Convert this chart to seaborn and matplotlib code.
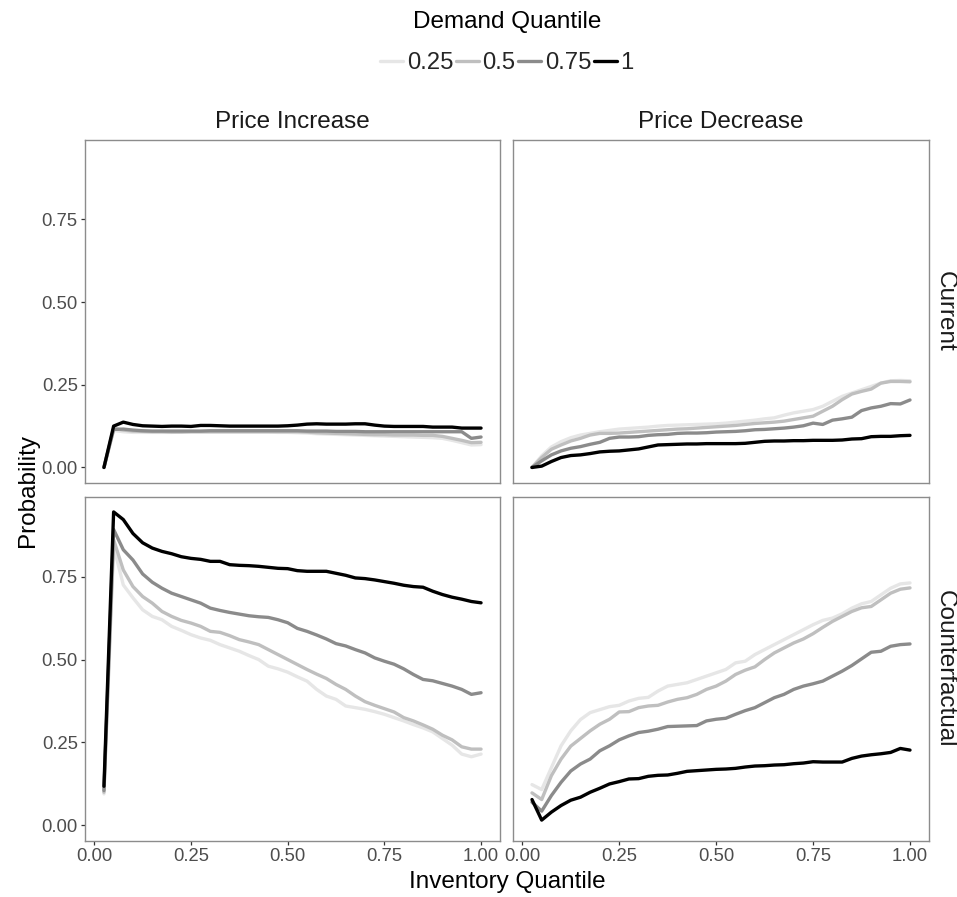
import numpy as np
import pandas as pd
import matplotlib
matplotlib.use("Agg")
import matplotlib.pyplot as plt
from matplotlib.lines import Line2D
import seaborn as sns

# ---------------- data ----------------
inventory_q = [0.025, 0.05, 0.075, 0.1, 0.125, 0.15, 0.175, 0.2, 0.225, 0.25,
               0.275, 0.3, 0.325, 0.35, 0.375, 0.4, 0.425, 0.45, 0.475, 0.5,
               0.525, 0.55, 0.575, 0.6, 0.625, 0.65, 0.675, 0.7, 0.725, 0.75,
               0.775, 0.8, 0.825, 0.85, 0.875, 0.9, 0.925, 0.95, 0.975, 1.0]

demand_levels = ["0.25", "0.5", "0.75", "1"]
directions = ["Price Increase", "Price Decrease"]
scenarios = ["Current", "Counterfactual"]

# Price Increase / Current
inc_cur_025 = [0.0, 0.112, 0.108, 0.106, 0.106, 0.106, 0.106, 0.106, 0.107, 0.107, 0.107, 0.107, 0.107, 0.107, 0.107, 0.107, 0.107, 0.107, 0.106, 0.106, 0.105, 0.104, 0.102, 0.101, 0.100, 0.099, 0.098, 0.097, 0.096, 0.095, 0.094, 0.093, 0.092, 0.091, 0.090, 0.088, 0.082, 0.075, 0.068, 0.069]
inc_cur_050 = [0.0, 0.118, 0.113, 0.110, 0.109, 0.108, 0.108, 0.107, 0.107, 0.108, 0.108, 0.108, 0.108, 0.108, 0.108, 0.108, 0.108, 0.108, 0.108, 0.108, 0.108, 0.107, 0.105, 0.104, 0.103, 0.102, 0.101, 0.100, 0.099, 0.099, 0.098, 0.098, 0.098, 0.097, 0.097, 0.094, 0.088, 0.082, 0.075, 0.076]
inc_cur_075 = [0.0, 0.115, 0.116, 0.113, 0.111, 0.110, 0.110, 0.110, 0.110, 0.110, 0.110, 0.111, 0.111, 0.111, 0.111, 0.111, 0.111, 0.111, 0.111, 0.111, 0.111, 0.110, 0.110, 0.110, 0.109, 0.109, 0.109, 0.108, 0.108, 0.108, 0.108, 0.108, 0.108, 0.108, 0.108, 0.108, 0.108, 0.108, 0.088, 0.092]
inc_cur_100 = [0.0, 0.125, 0.137, 0.130, 0.126, 0.125, 0.124, 0.125, 0.125, 0.124, 0.127, 0.127, 0.126, 0.125, 0.125, 0.125, 0.125, 0.125, 0.125, 0.126, 0.128, 0.131, 0.132, 0.131, 0.131, 0.131, 0.132, 0.132, 0.128, 0.125, 0.124, 0.124, 0.124, 0.124, 0.122, 0.122, 0.122, 0.119, 0.119, 0.119]

# Price Decrease / Current
dec_cur_025 = [0.0, 0.035, 0.062, 0.078, 0.090, 0.098, 0.103, 0.108, 0.112, 0.116, 0.118, 0.120, 0.122, 0.125, 0.127, 0.128, 0.129, 0.130, 0.131, 0.132, 0.134, 0.137, 0.140, 0.143, 0.147, 0.150, 0.158, 0.165, 0.170, 0.175, 0.185, 0.200, 0.215, 0.225, 0.235, 0.245, 0.255, 0.262, 0.263, 0.262]
dec_cur_050 = [0.0, 0.030, 0.055, 0.068, 0.080, 0.088, 0.098, 0.103, 0.103, 0.104, 0.106, 0.108, 0.110, 0.112, 0.114, 0.116, 0.117, 0.119, 0.121, 0.123, 0.125, 0.127, 0.130, 0.133, 0.135, 0.137, 0.140, 0.145, 0.150, 0.155, 0.170, 0.185, 0.205, 0.222, 0.230, 0.237, 0.255, 0.260, 0.260, 0.259]
dec_cur_075 = [0.0, 0.020, 0.038, 0.050, 0.058, 0.063, 0.070, 0.076, 0.088, 0.092, 0.092, 0.093, 0.097, 0.099, 0.100, 0.103, 0.104, 0.104, 0.105, 0.107, 0.108, 0.109, 0.111, 0.114, 0.115, 0.117, 0.119, 0.122, 0.126, 0.134, 0.130, 0.143, 0.147, 0.152, 0.172, 0.180, 0.185, 0.193, 0.192, 0.204]
dec_cur_100 = [0.0, 0.004, 0.018, 0.030, 0.036, 0.038, 0.042, 0.047, 0.049, 0.050, 0.053, 0.056, 0.062, 0.068, 0.069, 0.070, 0.071, 0.071, 0.072, 0.072, 0.072, 0.072, 0.073, 0.076, 0.079, 0.080, 0.080, 0.081, 0.081, 0.082, 0.082, 0.082, 0.083, 0.086, 0.087, 0.093, 0.094, 0.094, 0.096, 0.097]

# Price Increase / Counterfactual
inc_cf_025 = [0.095, 0.841, 0.725, 0.686, 0.650, 0.630, 0.620, 0.600, 0.588, 0.575, 0.565, 0.558, 0.545, 0.535, 0.525, 0.512, 0.500, 0.480, 0.472, 0.462, 0.448, 0.435, 0.410, 0.390, 0.380, 0.360, 0.355, 0.350, 0.343, 0.335, 0.325, 0.315, 0.304, 0.294, 0.282, 0.262, 0.242, 0.215, 0.207, 0.215]
inc_cf_050 = [0.100, 0.861, 0.770, 0.720, 0.690, 0.670, 0.645, 0.630, 0.618, 0.610, 0.600, 0.585, 0.582, 0.572, 0.560, 0.553, 0.545, 0.530, 0.515, 0.500, 0.485, 0.470, 0.456, 0.443, 0.425, 0.410, 0.390, 0.373, 0.362, 0.352, 0.342, 0.325, 0.315, 0.303, 0.290, 0.272, 0.258, 0.237, 0.230, 0.230]
inc_cf_075 = [0.105, 0.892, 0.831, 0.800, 0.758, 0.733, 0.715, 0.700, 0.690, 0.680, 0.670, 0.655, 0.648, 0.642, 0.637, 0.632, 0.629, 0.627, 0.620, 0.611, 0.594, 0.585, 0.574, 0.562, 0.548, 0.541, 0.530, 0.520, 0.505, 0.495, 0.486, 0.472, 0.455, 0.440, 0.436, 0.428, 0.420, 0.410, 0.395, 0.400]
inc_cf_100 = [0.118, 0.945, 0.922, 0.880, 0.852, 0.836, 0.826, 0.819, 0.810, 0.805, 0.802, 0.796, 0.796, 0.786, 0.784, 0.783, 0.781, 0.778, 0.775, 0.774, 0.768, 0.766, 0.766, 0.766, 0.760, 0.754, 0.746, 0.744, 0.740, 0.735, 0.730, 0.724, 0.720, 0.718, 0.706, 0.696, 0.688, 0.682, 0.675, 0.671]

# Price Decrease / Counterfactual
dec_cf_025 = [0.123, 0.108, 0.174, 0.240, 0.285, 0.319, 0.340, 0.349, 0.358, 0.362, 0.375, 0.383, 0.386, 0.405, 0.420, 0.425, 0.430, 0.440, 0.450, 0.460, 0.470, 0.490, 0.495, 0.515, 0.530, 0.545, 0.560, 0.575, 0.590, 0.605, 0.618, 0.625, 0.638, 0.655, 0.668, 0.675, 0.695, 0.715, 0.728, 0.731]
dec_cf_050 = [0.098, 0.078, 0.150, 0.200, 0.239, 0.262, 0.285, 0.305, 0.320, 0.342, 0.343, 0.355, 0.360, 0.362, 0.372, 0.380, 0.385, 0.395, 0.410, 0.420, 0.435, 0.455, 0.468, 0.478, 0.500, 0.520, 0.535, 0.550, 0.562, 0.578, 0.597, 0.615, 0.630, 0.645, 0.656, 0.660, 0.680, 0.700, 0.712, 0.716]
dec_cf_075 = [0.070, 0.043, 0.090, 0.130, 0.164, 0.185, 0.200, 0.225, 0.240, 0.258, 0.270, 0.280, 0.284, 0.290, 0.298, 0.299, 0.300, 0.301, 0.315, 0.320, 0.323, 0.335, 0.346, 0.355, 0.370, 0.385, 0.395, 0.410, 0.420, 0.427, 0.435, 0.450, 0.465, 0.482, 0.502, 0.522, 0.525, 0.540, 0.545, 0.547]
dec_cf_100 = [0.078, 0.016, 0.040, 0.060, 0.076, 0.085, 0.100, 0.112, 0.125, 0.132, 0.140, 0.141, 0.148, 0.151, 0.152, 0.157, 0.163, 0.165, 0.167, 0.169, 0.170, 0.172, 0.176, 0.179, 0.180, 0.182, 0.183, 0.186, 0.188, 0.192, 0.191, 0.191, 0.191, 0.202, 0.209, 0.213, 0.216, 0.220, 0.232, 0.227]

y_ticks = [0.00, 0.25, 0.50, 0.75]
y_tick_labels = ["0.00", "0.25", "0.50", "0.75"]
x_ticks = [0.00, 0.25, 0.50, 0.75, 1.00]
x_tick_labels = ["0.00", "0.25", "0.50", "0.75", "1.00"]

series = {
    ("Price Increase", "Current"): [inc_cur_025, inc_cur_050, inc_cur_075, inc_cur_100],
    ("Price Decrease", "Current"): [dec_cur_025, dec_cur_050, dec_cur_075, dec_cur_100],
    ("Price Increase", "Counterfactual"): [inc_cf_025, inc_cf_050, inc_cf_075, inc_cf_100],
    ("Price Decrease", "Counterfactual"): [dec_cf_025, dec_cf_050, dec_cf_075, dec_cf_100],
}

rows = []
for (d, s), lists in series.items():
    for lvl, vals in zip(demand_levels, lists):
        for xv, yv in zip(inventory_q, vals):
            rows.append({"direction": d, "scenario": s, "demand": lvl,
                         "inventory": xv, "prob": yv})
df = pd.DataFrame(rows)

# ---------------- style ----------------
sns.set_theme(style="white")
plt.rcParams["font.family"] = ["Liberation Sans", "DejaVu Sans"]

palette = {"0.25": "#E6E6E6", "0.5": "#BFBFBF", "0.75": "#8B8B8B", "1": "#000000"}

W, H = 957, 897
fig = plt.figure(figsize=(W / 100, H / 100), dpi=100)
fig.patch.set_facecolor("white")

def frac_rect(x0, y0, x1, y1):
    return [x0 / W, 1 - y1 / H, (x1 - x0) / W, (y1 - y0) / H]

panel_px = {
    (0, 0): (85, 140, 500, 483),
    (0, 1): (513, 140, 929, 483),
    (1, 0): (85, 497, 500, 841),
    (1, 1): (513, 497, 929, 841),
}

ylim = (-0.047, 0.99)
xlim = (-0.024, 1.049)
tick_label_color = "#4D4D4D"

for (r, c), px in panel_px.items():
    ax = fig.add_axes(frac_rect(*px))
    sub = df[(df["direction"] == directions[c]) & (df["scenario"] == scenarios[r])]
    sns.lineplot(data=sub, x="inventory", y="prob", hue="demand",
                 hue_order=demand_levels, palette=palette, linewidth=2.4,
                 legend=False, ax=ax, estimator=None, sort=True)
    ax.set_xlim(*xlim)
    ax.set_ylim(*ylim)
    ax.set_xlabel("")
    ax.set_ylabel("")
    ax.set_facecolor("white")
    for sp in ax.spines.values():
        sp.set_visible(True)
        sp.set_color("#8C8C8C")
        sp.set_linewidth(1.0)
    ax.tick_params(axis="both", which="both", length=3.2, width=0.9,
                   color="#333333", labelcolor=tick_label_color,
                   labelsize=13.3, pad=2.0)
    if c == 0:
        ax.set_yticks(y_ticks)
        ax.set_yticklabels(y_tick_labels)
        ax.tick_params(axis="y", left=True)
    else:
        ax.set_yticks([])
    if r == 1:
        ax.set_xticks(x_ticks)
        ax.set_xticklabels(x_tick_labels)
        ax.tick_params(axis="x", bottom=True)
    else:
        ax.set_xticks([])
    ax.grid(False)

# strip labels
fig.text(((85 + 500) / 2) / W, 1 - 122 / H, directions[0], ha="center", va="center",
         fontsize=17.5, color="#1A1A1A")
fig.text(((513 + 929) / 2) / W, 1 - 122 / H, directions[1], ha="center", va="center",
         fontsize=17.5, color="#1A1A1A")
fig.text(945 / W, 1 - ((140 + 483) / 2) / H, scenarios[0], ha="center", va="center",
         rotation=-90, fontsize=17.5, color="#1A1A1A")
fig.text(945 / W, 1 - ((497 + 841) / 2) / H, scenarios[1], ha="center", va="center",
         rotation=-90, fontsize=17.5, color="#1A1A1A")

# axis titles
fig.text(507 / W, 1 - 882 / H, "Inventory Quantile", ha="center", va="center",
         fontsize=17.5, color="black")
fig.text(28 / W, 1 - 490 / H, "Probability", ha="center", va="center",
         rotation=90, fontsize=17.5, color="black")

# legend
fig.text(507 / W, 1 - 22 / H, "Demand Quantile", ha="center", va="center",
         fontsize=17.5, color="black")
handles = [Line2D([0], [0], color=palette[l], linewidth=2.4) for l in demand_levels]
fig.legend(handles, demand_levels, loc="center", bbox_to_anchor=(507 / W, 1 - 63 / H),
           ncol=4, frameon=False, fontsize=17.2, handlelength=0.95,
           handletextpad=0.15, columnspacing=0.12, borderaxespad=0, borderpad=0)

fig.savefig("out.png", dpi=100, facecolor="white")
